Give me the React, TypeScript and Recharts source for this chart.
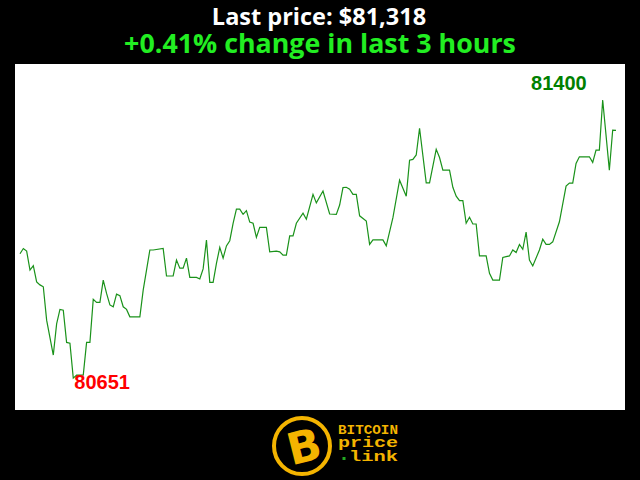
import React from 'react';
import { LineChart, Line, XAxis, YAxis } from 'recharts';

const minutes = [
  0, 1, 2, 3, 4, 5, 6, 7, 8, 10, 11, 12, 13, 14, 15, 16, 17, 19, 20, 21, 22, 23, 24, 25, 26, 27, 28, 29, 30, 31, 32, 33, 36, 37, 38, 39, 40, 43, 44, 46,
  47, 48, 49, 50, 51, 53, 54, 55, 56, 57, 58, 59, 60, 61, 62, 63, 64, 65, 66, 67, 68, 69, 70, 71, 72, 74, 75, 77, 78, 79, 80, 81, 82, 83, 85, 86, 88, 89, 91, 93,
  95, 96, 97, 98, 99, 100, 101, 102, 104, 105, 106, 109, 110, 112, 114, 116, 117, 118, 119, 120, 122, 123, 125, 126, 127, 129, 130, 131, 132, 133, 134, 135, 136, 137, 138, 140,
  141, 142, 144, 145, 146, 147, 148, 149, 150, 151, 152, 153, 154, 156, 157, 158, 159, 160, 162, 164, 165, 166, 167, 168, 171, 172, 173, 174, 175, 177, 178, 179,
];

const prices = [
  80986, 81000, 80993, 80942, 80954, 80910, 80902, 80897, 80807, 80713, 80797, 80836, 80834, 80747, 80745, 80651, 80659, 80659, 80747, 80747,
  80863, 80855, 80855, 80915, 80879, 80848, 80843, 80877, 80873, 80843, 80836, 80816, 80816, 80888, 80942, 80996, 80996, 81000, 80926, 80926,
  80969, 80947, 80947, 80974, 80922, 80922, 80918, 80945, 81023, 80909, 80909, 80960, 81003, 80974, 81007, 81021, 81068, 81106, 81106, 81092,
  81102, 81071, 81068, 81030, 81057, 81057, 80991, 80993, 80991, 80982, 80982, 81034, 81034, 81068, 81095, 81079, 81146, 81123, 81155, 81093,
  81092, 81117, 81164, 81165, 81160, 81146, 81146, 81088, 81074, 81011, 81023, 81023, 81007, 81083, 81184, 81141, 81238, 81240, 81252, 81324,
  81177, 81177, 81267, 81245, 81211, 81211, 81165, 81141, 81129, 81129, 81068, 81084, 81066, 81066, 80980, 80980, 80933, 80915, 80915, 80976,
  80978, 80980, 80996, 80989, 81011, 80998, 81044, 80969, 80953, 80996, 81025, 81011, 81011, 81018, 81072, 81168, 81176, 81176, 81229, 81247,
  81247, 81232, 81265, 81265, 81400, 81211, 81319, 81318,
];

const titleLine = 'Last price: $81,318';
const changeLine = '+0.41% change in last 3 hours';
const logoLines = ['BITCOIN', 'price', 'link'];

const maxPrice = Math.max(...prices);
const minPrice = Math.min(...prices);
const data = minutes.map((t, i) => ({ t, price: prices[i] }));

const GOLD = '#f4b400';

const renderLabel = (props: any) => {
  const { x, y, value, index } = props;
  if (value === maxPrice) {
    return (
      <text key={`lbl-${index}`} x={x - 16} y={y - 10} textAnchor="end" fill="#008000"
        fontFamily="'Liberation Sans', Arial, sans-serif" fontWeight="bold" fontSize={20}>
        {value}
      </text>
    );
  }
  if (value === minPrice) {
    return (
      <text key={`lbl-${index}`} x={x + 1} y={y + 11} textAnchor="start" fill="#ff0000"
        fontFamily="'Liberation Sans', Arial, sans-serif" fontWeight="bold" fontSize={20}>
        {value}
      </text>
    );
  }
  return null;
};

export default function App() {
  return (
    <div style={{ position: 'absolute', left: 0, top: 0, width: 640, height: 480, background: '#000', overflow: 'hidden' }}>
      <div style={{ position: 'absolute', left: 15, top: 64, width: 610, height: 346, background: '#fff' }} />
      <svg width={640} height={480} style={{ position: 'absolute', left: 0, top: 0 }}>
        <text x={319} y={25} textAnchor="middle" fill="#fff" fontFamily="'Open Sans', sans-serif" fontWeight="bold" fontSize={23.5}>
          {titleLine}
        </text>
        <text x={320} y={53} textAnchor="middle" fill="#22ee22" fontFamily="'Open Sans', sans-serif" fontWeight="bold" fontSize={26.8}>
          {changeLine}
        </text>
        <circle cx={302} cy={446} r={28} fill="#000" stroke={GOLD} strokeWidth={4} />
        <text x={304} y={462} textAnchor="middle" fill={GOLD} fontFamily="'DejaVu Sans', sans-serif" fontWeight="bold" fontSize={44}
          transform="rotate(-14 304 446)">
          B
        </text>
        <text x={338} y={433.5} fill={GOLD} fontFamily="'Liberation Mono', monospace" fontWeight="bold" fontSize={12}
          textLength={60} lengthAdjust="spacingAndGlyphs">
          {logoLines[0]}
        </text>
        <text x={338} y={447} fill={GOLD} fontFamily="'Liberation Mono', monospace" fontWeight="bold" fontSize={14}
          textLength={60} lengthAdjust="spacingAndGlyphs">
          {logoLines[1]}
        </text>
        <rect x={342.5} y={457} width={3} height={3} fill="#22aa22" />
        <text x={349} y={461} fill={GOLD} fontFamily="'Liberation Mono', monospace" fontWeight="bold" fontSize={14}
          textLength={49} lengthAdjust="spacingAndGlyphs">
          {logoLines[2]}
        </text>
      </svg>
      <div style={{ position: 'absolute', left: 0, top: 0 }}>
        <LineChart width={640} height={480} data={data} margin={{ top: 64, right: 15, bottom: 70, left: 15 }}>
          <XAxis type="number" dataKey="t" domain={[-1.5, 181.7]} hide allowDataOverflow />
          <YAxis type="number" domain={[80565, 81497]} hide allowDataOverflow />
          <Line type="linear" dataKey="price" stroke="#1a921a" strokeWidth={1.2} dot={false}
            isAnimationActive={false} label={renderLabel} />
        </LineChart>
      </div>
    </div>
  );
}
